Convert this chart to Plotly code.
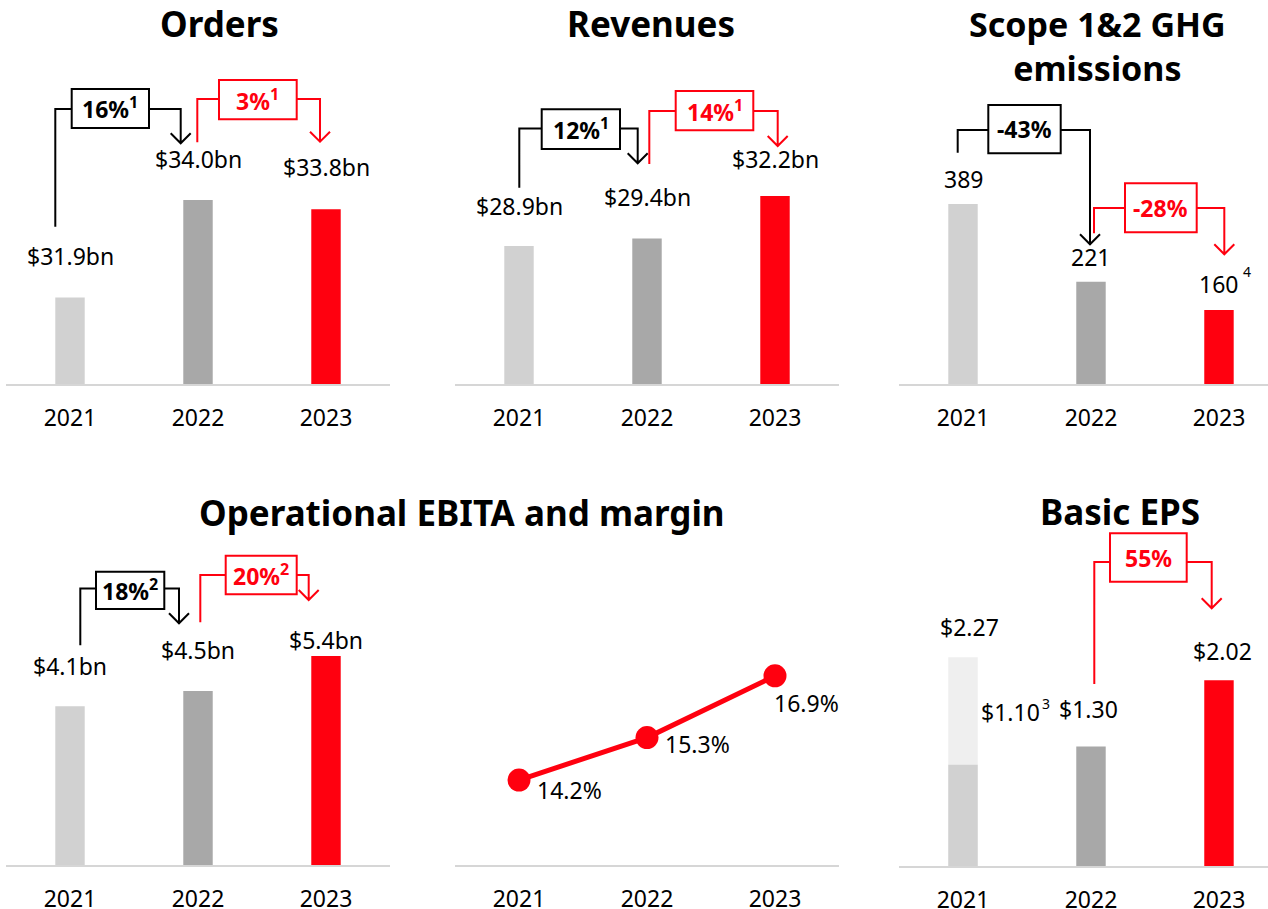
import plotly.graph_objects as go

W, H = 1268, 909

# ---------------- data ----------------
years = ["2021", "2022", "2023"]

orders = [31.9, 34.0, 33.8]
orders_labels = ["$31.9bn", "$34.0bn", "$33.8bn"]

revenues = [28.9, 29.4, 32.2]
revenues_labels = ["$28.9bn", "$29.4bn", "$32.2bn"]

ghg = [389, 221, 160]
ghg_labels = ["389", "221", "160"]
ghg_footnotes = ["", "", "4"]

ebita = [4.1, 4.5, 5.4]
ebita_labels = ["$4.1bn", "$4.5bn", "$5.4bn"]

ebita_margin = [14.2, 15.3, 16.9]
ebita_margin_labels = ["14.2%", "15.3%", "16.9%"]

eps = [1.10, 1.30, 2.02]
eps_labels = ["$1.10", "$1.30", "$2.02"]
eps_footnotes = ["3", "", ""]
eps_2021_reported = [2.27]
eps_2021_reported_label = ["$2.27"]

growth_labels = ["16%<sup>1</sup>", "3%<sup>1</sup>",
                 "12%<sup>1</sup>", "14%<sup>1</sup>",
                 "-43%", "-28%",
                 "18%<sup>2</sup>", "20%<sup>2</sup>",
                 "55%"]

titles = ["Orders", "Revenues", "Scope 1&2 GHG<br>emissions",
          "Operational EBITA and margin", "Basic EPS"]

# ---------------- styles ----------------
LIGHT = "#d1d1d1"
MID = "#a8a8a8"
RED = "#ff000f"
PALE = "#efefef"
AXIS = "#d6d6d6"
BAR_COLORS = [LIGHT, MID, RED]
FONT = "Noto Sans"


def px(x):
    return x / W


def py(y):
    return 1 - y / H


# panel geometry (pixels) and axis ranges
panels = {
    1: dict(xd=(6, 390), yd=(60, 384), yr=(30.04, 37.01), xr=(-0.5, 2.5)),
    2: dict(xd=(455, 839), yd=(60, 384), yr=(19.79, 41.18), xr=(-0.5, 2.5)),
    3: dict(xd=(899, 1268), yd=(60, 384), yr=(0, 700.2), xr=(-0.5, 2.383)),
    4: dict(xd=(6, 390), yd=(540, 865), yr=(0, 8.40), xr=(-0.5, 2.5)),
    5: dict(xd=(455, 839), yd=(540, 865), yr=(12, 20.42), xr=(-0.5, 2.5)),
    6: dict(xd=(899, 1268), yd=(540, 866), yr=(0, 3.543), xr=(-0.5, 2.383)),
}

fig = go.Figure()


def ax(i):
    return ("x" if i == 1 else f"x{i}"), ("y" if i == 1 else f"y{i}")


BAR_W = 0.23

# bars
for i, vals in [(1, orders), (2, revenues), (3, ghg), (4, ebita)]:
    xa, ya = ax(i)
    fig.add_trace(go.Bar(x=years, y=vals, marker_color=BAR_COLORS, width=BAR_W,
                         marker_line_width=0, xaxis=xa, yaxis=ya, hoverinfo="skip"))

# EPS: reported 2021 (pale) behind, then main bars
xa, ya = ax(6)
fig.add_trace(go.Bar(x=years[:1], y=eps_2021_reported, marker_color=PALE, width=BAR_W,
                     marker_line_width=0, xaxis=xa, yaxis=ya, hoverinfo="skip"))
fig.add_trace(go.Bar(x=years, y=eps, marker_color=BAR_COLORS, width=BAR_W,
                     marker_line_width=0, xaxis=xa, yaxis=ya, hoverinfo="skip"))

# margin line
xa, ya = ax(5)
fig.add_trace(go.Scatter(x=years, y=ebita_margin, mode="lines+markers",
                         line=dict(color=RED, width=5),
                         marker=dict(size=23, color=RED),
                         xaxis=xa, yaxis=ya, hoverinfo="skip"))

annotations = []
shapes = []


def value_labels(i, labels, vals, yshifts, xshifts=None, xanchor="center"):
    xa, ya = ax(i)
    for k, (lab, v) in enumerate(zip(labels, vals)):
        if not lab:
            continue
        annotations.append(dict(
            x=k, y=v, xref=xa, yref=ya, text=lab, showarrow=False,
            xanchor=xanchor if not isinstance(xanchor, list) else xanchor[k],
            yanchor="middle",
            yshift=yshifts[k], xshift=(xshifts[k] if xshifts else 0),
            font=dict(family=FONT, size=23, color="black")))


value_labels(1, orders_labels, orders, [41.5, 41, 42])
value_labels(2, revenues_labels, revenues, [40.3, 41.1, 36.7])
value_labels(3, ghg_labels, ghg, [25, 25, 25.7])
value_labels(4, ebita_labels, ebita, [40.6, 40.8, 16])
value_labels(6, eps_labels, eps, [52.5, 37.4, 29.2], [15.5, -2.7, 3.5],
             xanchor=["left", "center", "center"])
value_labels(6, eps_2021_reported_label, eps_2021_reported, [30.5], [6])
value_labels(5, ebita_margin_labels, ebita_margin, [-10, -6, -27], [16, 16, -3],
             xanchor="left")

# footnote superscripts
for i, notes, vals, xs, ys in [(3, ghg_footnotes, ghg, [0, 0, 28.5], [0, 0, 38.3]),
                               (6, eps_footnotes, eps, [82.5, 0, 0], [61.5, 0, 0])]:
    xa, ya = ax(i)
    for k, n in enumerate(notes):
        if n:
            annotations.append(dict(x=k, y=vals[k], xref=xa, yref=ya, text=n,
                                    showarrow=False, xanchor="center", yanchor="middle",
                                    xshift=xs[k], yshift=ys[k],
                                    font=dict(family=FONT, size=14, color="black")))

# titles
title_pos = [(219, 23.5), (651, 23.5), (1097, 46), (462, 512), (1119.5, 511)]
title_size = [35, 35, 34, 35, 35]
for t, (tx, ty), fs in zip(titles, title_pos, title_size):
    annotations.append(dict(x=px(tx), y=py(ty), xref="paper", yref="paper",
                            text=f"<b>{t}</b>", showarrow=False,
                            xanchor="center", yanchor="middle",
                            font=dict(family=FONT, size=fs, color="black")))

# growth brackets (pixel geometry of the callouts)
bracket_geom = [
    ("black", 55.3, 226.7, 109, (71.7, 149, 89, 128), 180.7, 143.3),
    (RED, 197.3, 142.3, 99, (219, 296.7, 80, 119.3), 320, 141.7),
    ("black", 519.3, 187.7, 128.5, (541.7, 620, 109.3, 149), 637.7, 163.3),
    (RED, 649.3, 164, 111, (675.7, 753.3, 91, 130.3), 777.7, 146),
    ("black", 957.7, 152.7, 130, (988.3, 1060.7, 105, 153.3), 1090, 244.3),
    (RED, 1094, 233.3, 208, (1125, 1196.7, 183.3, 232.3), 1224.3, 254.3),
    ("black", 80.3, 645.3, 588.5, (96, 164.3, 571.7, 609), 179, 623.3),
    (RED, 200.3, 622.3, 575, (225.7, 296.7, 555.7, 594.3), 308.7, 600),
    (RED, 1094.3, 684, 562, (1110, 1186.7, 533.3, 581.7), 1211.7, 608.3),
]


def P(x, y):
    return f"{px(x):.5f},{py(y):.5f}"


for (col, sx, sy, ly, (bx0, bx1, by0, by1), ex, ey), txt in zip(bracket_geom, growth_labels):
    path = (f"M{P(sx, sy)} L{P(sx, ly)} L{P(bx0, ly)} "
            f"M{P(bx1, ly)} L{P(ex, ly)} L{P(ex, ey)} "
            f"M{P(ex - 10, ey - 10)} L{P(ex, ey)} L{P(ex + 10, ey - 10)}")
    shapes.append(dict(type="path", path=path, xref="paper", yref="paper",
                       line=dict(color=col, width=2)))
    shapes.append(dict(type="rect", xref="paper", yref="paper",
                       x0=px(bx0), x1=px(bx1), y0=py(by1), y1=py(by0),
                       line=dict(color=col, width=2), fillcolor="white"))
    annotations.append(dict(x=px((bx0 + bx1) / 2), y=py((by0 + by1) / 2),
                            xref="paper", yref="paper", text=f"<b>{txt}</b>",
                            showarrow=False, xanchor="center", yanchor="middle",
                            font=dict(family=FONT, size=23, color=col)))

layout = dict(width=W, height=H, margin=dict(l=0, r=0, t=0, b=0, autoexpand=False),
              paper_bgcolor="white", plot_bgcolor="white",
              showlegend=False, barmode="overlay", hovermode=False,
              annotations=annotations, shapes=shapes)

for i, p in panels.items():
    xk = "xaxis" if i == 1 else f"xaxis{i}"
    yk = "yaxis" if i == 1 else f"yaxis{i}"
    xa, ya = ax(i)
    layout[xk] = dict(domain=[px(p["xd"][0]), px(p["xd"][1])], anchor=ya,
                      type="category", range=list(p["xr"]), automargin=False,
                      showline=True, linecolor=AXIS, linewidth=2,
                      ticks="outside", ticklen=12, tickcolor="rgba(0,0,0,0)",
                      tickfont=dict(family=FONT, size=23, color="black"),
                      showgrid=False, zeroline=False, fixedrange=True)
    layout[yk] = dict(domain=[py(p["yd"][1]), py(p["yd"][0])], anchor=xa,
                      range=list(p["yr"]), visible=False, showgrid=False,
                      automargin=False, zeroline=False, fixedrange=True)

fig.update_layout(**layout)

post = """
var gd = document.getElementById('{plot_id}');
var de = document.documentElement, b = document.body;
[de, b].forEach(function(e){ e.style.margin='0'; e.style.padding='0';
  e.style.overflow='hidden'; });
var p = gd.parentElement;
p.style.lineHeight='0'; p.style.fontSize='0'; p.style.margin='0'; p.style.padding='0';
gd.style.display='block';
"""

fig.write_html("out.html", config={"displayModeBar": False, "staticPlot": True},
               post_script=post)
